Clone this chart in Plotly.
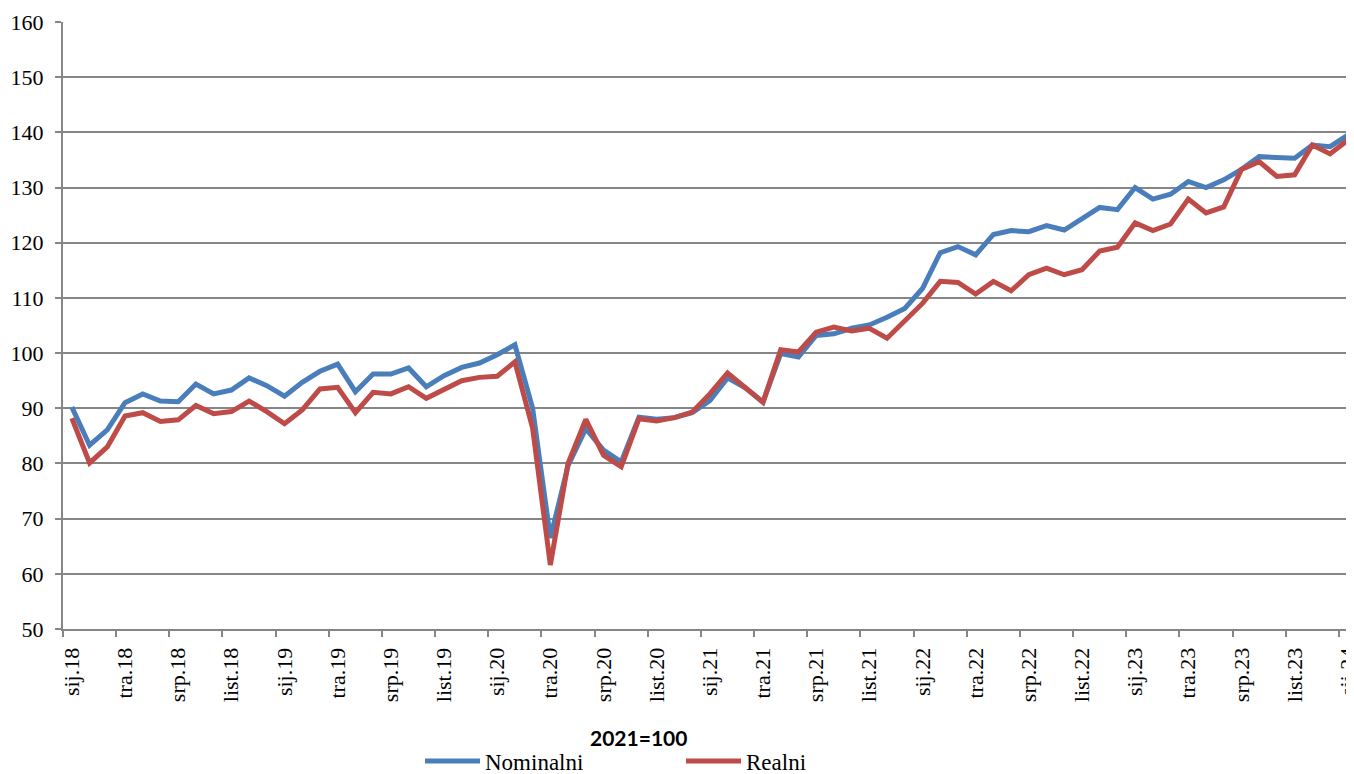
import plotly.graph_objects as go

# Monthly index, Jan 2018 .. Jan 2024 (2021=100)
month_abbr = ["sij", "velj", "ožu", "tra", "svi", "lip", "srp", "kol", "ruj", "list", "stu", "pro"]
years = [18, 19, 20, 21, 22, 23, 24]
n_months = 73

nominalni = [90.2, 83.3, 86.1, 91.0, 92.6, 91.3, 91.2, 94.4, 92.6, 93.3, 95.5, 94.1,
             92.2, 94.7, 96.7, 98.0, 93.0, 96.2, 96.2, 97.3, 93.9, 95.9, 97.4, 98.2,
             99.7, 101.5, 90.0, 66.5, 79.6, 86.3, 82.4, 80.3, 88.4, 88.0, 88.3, 89.2,
             91.4, 95.5, 93.7, 91.1, 99.9, 99.3, 103.2, 103.5, 104.5, 105.1, 106.5, 108.1,
             111.7, 118.2, 119.3, 117.8, 121.5, 122.2, 122.0, 123.1, 122.3, 124.4, 126.4, 126.0,
             130.0, 127.9, 128.8, 131.1, 130.0, 131.4, 133.3, 135.6, 135.4, 135.3, 137.7, 137.4,
             139.5]
realni = [88.2, 80.1, 83.0, 88.6, 89.2, 87.6, 87.9, 90.5, 89.0, 89.4, 91.3, 89.4,
          87.2, 89.7, 93.5, 93.8, 89.2, 92.9, 92.6, 93.9, 91.8, 93.5, 95.0, 95.6,
          95.8, 98.4, 86.4, 61.6, 80.0, 88.0, 81.5, 79.4, 88.1, 87.7, 88.3, 89.3,
          92.6, 96.4, 93.7, 91.1, 100.6, 100.2, 103.8, 104.7, 104.0, 104.5, 102.7, 105.7,
          109.0, 113.0, 112.8, 110.7, 113.0, 111.3, 114.2, 115.4, 114.2, 115.1, 118.5, 119.2,
          123.6, 122.2, 123.4, 127.9, 125.4, 126.5, 133.3, 134.7, 132.0, 132.3, 137.7, 136.1,
          138.6]

month_labels = [f"{month_abbr[k % 12]}.{years[k // 12]}" for k in range(n_months)]
x_idx = list(range(n_months))
tick_idx = x_idx[::3]
tick_text = [month_labels[k] for k in tick_idx]

GRID = "#868686"
SERIF = "Liberation Serif"

# page body has an 8px default margin, so the figure is laid out 8px smaller
W, H = 1346, 766

fig = go.Figure()
fig.add_trace(go.Scatter(x=x_idx, y=nominalni, mode="lines", name="Nominalni",
                         line=dict(color="#4A7EBB", width=5), text=month_labels))
fig.add_trace(go.Scatter(x=x_idx, y=realni, mode="lines", name="Realni",
                         line=dict(color="#BE4B48", width=5), text=month_labels))

fig.update_layout(
    width=W, height=H,
    margin=dict(l=55, r=0, t=14, b=145, autoexpand=False),
    paper_bgcolor="white", plot_bgcolor="white",
    font=dict(family=SERIF, size=22, color="black"),
    showlegend=True,
    legend=dict(orientation="h", xref="container", yref="container",
                x=412 / W, y=1 - 753 / H, xanchor="left", yanchor="middle",
                itemwidth=55, entrywidth=191, font=dict(family=SERIF, size=23),
                bgcolor="rgba(0,0,0,0)", tracegroupgap=0),
    annotations=[dict(text="<b>2021=100</b>", x=(638 - 63) / 1291, y=(629 - 737) / 607,
                      xref="paper", yref="paper",
                      xanchor="center", yanchor="middle", showarrow=False,
                      font=dict(family="Lato", size=21, color="black"))],
)
fig.update_xaxes(
    range=[-0.5, 72.35], tickmode="array", tickvals=tick_idx, ticktext=tick_text,
    tickangle=-90, ticks="", showgrid=False, zeroline=False, automargin=False,
    showline=True, linecolor=GRID, linewidth=2, ticklabeloverflow="allow",
    tickfont=dict(family=SERIF, size=22), ticklabelstandoff=8,
    minor=dict(tickmode="linear", tick0=-0.5, dtick=3, ticks="outside", ticklen=6,
               tickcolor=GRID, tickwidth=2, showgrid=False),
)
fig.update_yaxes(
    range=[50, 160], dtick=10, tick0=50, ticks="outside", ticklen=6, tickcolor=GRID, tickwidth=2,
    showgrid=True, gridcolor=GRID, gridwidth=2, zeroline=False, automargin=False,
    showline=True, linecolor=GRID, linewidth=2,
    tickfont=dict(family=SERIF, size=22), ticklabelstandoff=7,
)

fig.write_html("out.html")
